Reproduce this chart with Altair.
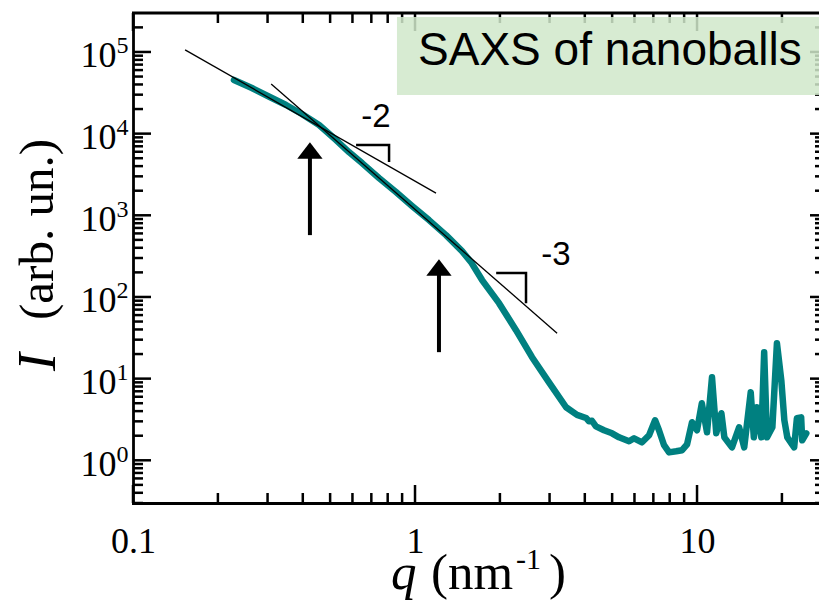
import altair as alt
import pandas as pd

# ---- data ----
q_vals = [0.228, 0.264, 0.303, 0.349, 0.397, 0.457, 0.525, 0.583, 0.649, 0.745,
          0.856, 0.976, 1.121, 1.288, 1.468, 1.580, 1.729, 1.986, 2.281, 2.600,
          2.986, 3.433, 3.754, 4.04, 4.14, 4.24, 4.38, 4.68, 4.996, 5.29,
          5.74, 5.98, 6.38, 6.76, 7.10, 7.33, 7.64, 7.96, 8.43, 8.85,
          9.22, 9.60, 10.0, 10.4, 10.85, 11.3, 11.7, 12.2, 12.5, 13.3,
          14.1, 14.7, 15.5, 15.9, 16.3, 16.9, 17.3, 17.7, 18.5, 19.2,
          19.9, 20.4, 20.9, 22.1, 22.6, 23.4, 23.6, 24.4]
I_vals = [45400, 36200, 28500, 22400, 17400, 12750, 8350, 5950, 4360, 2860,
          1925, 1300, 873, 572, 364, 267, 161, 84, 39.2, 18.3,
          9.0, 4.46, 3.6, 3.3, 3.0, 3.05, 2.6, 2.33, 2.14, 1.91,
          1.71, 1.86, 1.66, 2.03, 3.09, 2.33, 1.53, 1.25, 1.29, 1.33,
          1.57, 2.92, 2.33, 5.0, 2.20, 10.4, 2.14, 3.77, 1.91, 1.44,
          2.54, 1.44, 6.81, 1.91, 4.46, 1.91, 21.1, 1.91, 2.54, 27.2,
          9.55, 3.09, 1.91, 1.44, 3.27, 3.36, 1.76, 2.14]

fit_id = ["a", "a", "b", "b"]
fit_q = [0.153, 1.187, 0.309, 3.19]
fit_I = [1.06e5, 1870, 40550, 36.0]

tri_id = ["m2", "m2", "m2", "m3", "m3", "m3"]
tri_order = [0, 1, 2, 0, 1, 2]
tri_q = [0.618, 0.809, 0.809, 1.94, 2.475, 2.475]
tri_I = [7250, 7250, 4490, 196, 196, 84]

slope_text = ["-2", "-3"]
slope_q = [0.727, 3.16]
slope_I = [12050, 245]

arrow_q = [0.424, 1.216]
arrow_low = [572, 21.1]
arrow_head = [6210, 229]

Q_MIN, Q_MAX = 0.1, 27.07
I_MIN, I_MAX = 0.3, 3e5
box_q = [0.863, Q_MAX]
box_I = [29700, 2.68e5]
box_text = ["SAXS of nanoballs"]
box_text_q = [1.025]
box_text_I = [69300]

x_major = [0.1, 1, 10]
x_minor = [0.2, 0.3, 0.4, 0.5, 0.6, 0.7, 0.8, 0.9, 2, 3, 4, 5, 6, 7, 8, 9, 20]
y_major = [1, 10, 100, 1000, 10000, 100000]
y_minor = [m * 10 ** e for e in range(-1, 6) for m in range(2, 10)
           if 0.3 < m * 10 ** e < 3e5]

x_title = ["q", "(nm", "-1", ")"]
y_title = ["I", "(arb. un.)"]

# ---- tables ----
curve = pd.DataFrame({"q": q_vals, "I": I_vals})
fits = pd.DataFrame({"id": fit_id, "q": fit_q, "I": fit_I})
tris = pd.DataFrame({"id": tri_id, "o": tri_order, "q": tri_q, "I": tri_I})
slopes = pd.DataFrame({"t": slope_text, "q": slope_q, "I": slope_I})
arrows = pd.DataFrame({"q": arrow_q, "lo": arrow_low, "hd": arrow_head})
box = pd.DataFrame({"q1": [box_q[0]], "q2": [box_q[1]], "I1": [box_I[0]], "I2": [box_I[1]]})
boxlab = pd.DataFrame({"t": box_text, "q": box_text_q, "I": box_text_I})

W, H = 686, 490
xs = alt.Scale(type="log", domain=[Q_MIN, Q_MAX])
ys = alt.Scale(type="log", domain=[I_MIN, I_MAX])

import math
PX_PER_DEC_X = W / math.log10(Q_MAX / Q_MIN)
PX_PER_DEC_Y = H / math.log10(I_MAX / I_MIN)

SERIF = "Liberation Serif"
SANS = "Liberation Sans"


def label_axis(orient, values, domain=False, **kw):
    return alt.Axis(orient=orient, values=values, ticks=False, tickSize=0,
                    domain=domain, domainColor="black", domainWidth=2.8,
                    domainCap="square", grid=False, title=None,
                    labelColor="black", labelFont=SERIF, labelFlush=False,
                    labelOverlap=False, **kw)


ax_b_labels = label_axis("bottom", x_major, domain=True, labelFontSize=36,
                         labelPadding=21, labelBaseline="top",
                         labelAlign="center", format="~g")
ax_l_ten = label_axis("left", y_major, domain=True, labelFontSize=36,
                      labelPadding=17, labelAlign="right",
                      labelBaseline="alphabetic", labelOffset=15,
                      labelExpr="'10'")
ax_l_exp = label_axis("left", y_major, labelFontSize=24, labelPadding=17,
                      labelAlign="left", labelBaseline="alphabetic",
                      labelOffset=1,
                      labelExpr="format(round(log(datum.value)/LN10), 'd')")


def xticks(values, edge, length_px, inward):
    f = 10 ** (length_px / PX_PER_DEC_Y)
    end = edge * f if inward > 0 else edge / f
    df = pd.DataFrame({"v": values, "a": [edge] * len(values), "b": [end] * len(values)})
    return alt.Chart(df).mark_rule(color="black", strokeWidth=2.5).encode(
        x=alt.X("v:Q", scale=xs, axis=None),
        y=alt.Y("a:Q", scale=ys, axis=None), y2="b:Q")


def yticks(values, edge, length_px, inward):
    f = 10 ** (length_px / PX_PER_DEC_X)
    end = edge * f if inward > 0 else edge / f
    df = pd.DataFrame({"v": values, "a": [edge] * len(values), "b": [end] * len(values)})
    return alt.Chart(df).mark_rule(color="black", strokeWidth=2.5).encode(
        y=alt.Y("v:Q", scale=ys, axis=None),
        x=alt.X("a:Q", scale=xs, axis=None), x2="b:Q")


tick_layers = [
    xticks(x_major, I_MIN, 18, 1), xticks(x_minor, I_MIN, 10, 1),
    xticks(x_major, I_MAX, 18, -1), xticks(x_minor, I_MAX, 10, -1),
    yticks(y_major, Q_MIN, 18, 1), yticks(y_minor, Q_MIN, 10, 1),
    yticks(y_major, Q_MAX, 9, -1), yticks(y_minor, Q_MAX, 4, -1),
]

curve_layer = alt.Chart(curve).mark_line(
    color="#008080", strokeWidth=6.5, strokeJoin="round", strokeCap="round").encode(
    x=alt.X("q:Q", scale=xs, axis=ax_b_labels),
    y=alt.Y("I:Q", scale=ys, axis=ax_l_ten))

fit_layer = alt.Chart(fits).mark_line(color="black", strokeWidth=1.3).encode(
    x=alt.X("q:Q", scale=xs, axis=None),
    y=alt.Y("I:Q", scale=ys, axis=ax_l_exp),
    detail="id:N")

box_layer = alt.Chart(box).mark_rect(color="#d0e7ca", opacity=0.85).encode(
    x=alt.X("q1:Q", scale=xs, axis=None), x2="q2:Q",
    y=alt.Y("I1:Q", scale=ys, axis=None), y2="I2:Q")

top_frame = alt.Chart(pd.DataFrame({"v": [0]})).mark_rule(
    color="black", strokeWidth=2.8).encode(
    x=alt.value(-1), x2=alt.value(W), y=alt.value(0))

tri_layer = alt.Chart(tris).mark_line(color="black", strokeWidth=2.5,
                                      strokeJoin="miter").encode(
    x=alt.X("q:Q", scale=xs, axis=None),
    y=alt.Y("I:Q", scale=ys, axis=None),
    detail="id:N", order="o:Q")

shaft_layer = alt.Chart(arrows).mark_rule(color="black", strokeWidth=4).encode(
    x=alt.X("q:Q", scale=xs, axis=None),
    y=alt.Y("lo:Q", scale=ys, axis=None), y2="hd:Q")

head_layer = alt.Chart(arrows).mark_point(
    shape="M0,-0.65L1,0.65L-1,0.65Z", filled=True, size=640, color="black",
    opacity=1).encode(
    x=alt.X("q:Q", scale=xs, axis=None),
    y=alt.Y("hd:Q", scale=ys, axis=None))

slope_layer = alt.Chart(slopes).mark_text(
    font=SANS, fontSize=33, align="center", baseline="alphabetic", color="black").encode(
    x=alt.X("q:Q", scale=xs, axis=None),
    y=alt.Y("I:Q", scale=ys, axis=None), text="t:N")

boxlab_layer = alt.Chart(boxlab).mark_text(
    font=SANS, fontSize=46, align="left", baseline="alphabetic", color="black").encode(
    x=alt.X("q:Q", scale=xs, axis=None),
    y=alt.Y("I:Q", scale=ys, axis=None), text="t:N")


def title_piece(txt, px, py, size, italic=False, angle=0):
    kw = dict(font=SERIF, fontSize=size, align="left", baseline="alphabetic",
              color="black", fontStyle="italic" if italic else "normal")
    if angle:
        kw["angle"] = angle
    return alt.Chart(pd.DataFrame({"t": [txt]})).mark_text(**kw).encode(
        x=alt.value(px), y=alt.value(py), text="t:N")


titles = [
    title_piece(x_title[0], 258, 576, 51, italic=True),
    title_piece(x_title[1], 298, 576, 51),
    title_piece(x_title[2], 383, 556, 30),
    title_piece(x_title[3], 416, 576, 51),
    title_piece(y_title[0], -78, 358, 54, italic=True, angle=270),
    title_piece(y_title[1], -80, 307, 49, angle=270),
]

chart = alt.layer(
    curve_layer, fit_layer, tri_layer, shaft_layer, head_layer, slope_layer,
    *titles, *tick_layers, box_layer, top_frame, boxlab_layer
).resolve_axis(x="independent", y="independent").properties(
    width=W, height=H,
    autosize=alt.AutoSizeParams(type="none"),
    padding={"left": 125, "top": 5, "right": 0, "bottom": 98},
).configure_view(strokeWidth=0)

chart.save("out.html", embed_options={"renderer": "svg", "actions": False})
